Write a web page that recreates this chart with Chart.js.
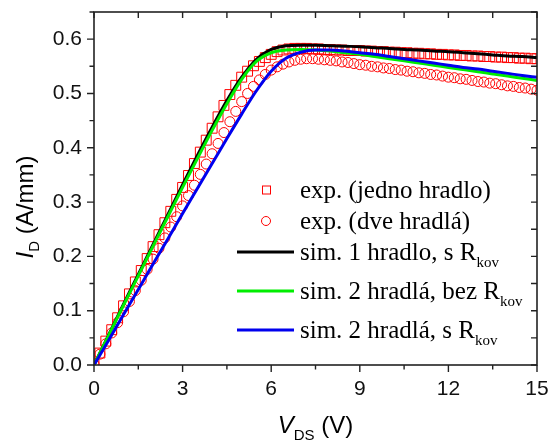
<!DOCTYPE html>
<html>
<head>
<meta charset="utf-8">
<script src="https://cdn.jsdelivr.net/npm/chart.js@4.4.1/dist/chart.umd.min.js"></script>
<style>
  body { margin: 0; background: #fff; }
  canvas { display: block; }
</style>
</head>
<body>
<canvas id="myChart" width="551" height="445"></canvas>
<script>
// measured points, 0.2 V step
var vExp = [0,0.2,0.4,0.6,0.8,1,1.2,1.4,1.6,1.8,2,2.2,2.4,2.6,2.8,3,3.2,3.4,3.6,3.8,
  4,4.2,4.4,4.6,4.8,5,5.2,5.4,5.6,5.8,6,6.2,6.4,6.6,6.8,7,7.2,7.4,7.6,7.8,
  8,8.2,8.4,8.6,8.8,9,9.2,9.4,9.6,9.8,10,10.2,10.4,10.6,10.8,11,11.2,11.4,11.6,11.8,
  12,12.2,12.4,12.6,12.8,13,13.2,13.4,13.6,13.8,14,14.2,14.4,14.6,14.8,15]

// exp. (jedno hradlo) - squares
var iJedno = [0.002,0.022,0.044,0.065,0.087,0.109,0.131,0.153,0.174,0.196,0.218,0.240,0.262,0.283,0.305,0.327,0.349,0.371,0.392,0.414,
  0.436,0.457,0.478,0.498,0.515,0.530,0.541,0.551,0.559,0.566,0.572,0.577,0.580,0.582,0.583,0.583,0.583,0.582,0.582,0.581,
  0.581,0.580,0.580,0.579,0.579,0.579,0.578,0.578,0.577,0.577,0.576,0.576,0.575,0.575,0.574,0.574,0.573,0.573,0.572,0.572,
  0.571,0.571,0.570,0.570,0.569,0.569,0.568,0.568,0.567,0.567,0.566,0.566,0.565,0.565,0.564,0.564]

// exp. (dve hradla) - circles
var iDve = [0.002,0.020,0.039,0.059,0.078,0.098,0.117,0.137,0.156,0.176,0.195,0.215,0.234,0.254,0.273,0.293,0.312,0.331,0.351,0.370,
  0.389,0.408,0.428,0.448,0.467,0.485,0.500,0.513,0.525,0.535,0.543,0.549,0.554,0.558,0.561,0.563,0.564,0.564,0.563,0.562,
  0.561,0.560,0.558,0.557,0.555,0.553,0.552,0.550,0.549,0.547,0.546,0.544,0.543,0.541,0.540,0.538,0.537,0.535,0.534,0.532,
  0.530,0.529,0.527,0.526,0.524,0.522,0.521,0.519,0.518,0.516,0.514,0.513,0.511,0.510,0.508,0.506]

// simulations, 0.5 V step
var vSim = [0,0.5,1,1.5,2,2.5,3,3.5,4,4.5,5,5.5,6,6.5,7,7.5,8,8.5,9,9.5,10,10.5,11,11.5,12,12.5,13,13.5,14,14.5,15]
var iSim1 = [0,0.056,0.112,0.167,0.222,0.277,0.332,0.386,0.438,0.487,0.530,0.563,0.581,0.588,0.589,0.589,0.588,0.587,0.586,0.584,
  0.583,0.581,0.580,0.578,0.577,0.575,0.573,0.571,0.569,0.568,0.566]
var iSim2bez = [0,0.055,0.110,0.164,0.219,0.273,0.327,0.380,0.432,0.481,0.526,0.559,0.575,0.580,0.581,0.580,0.578,0.575,0.572,0.568,
  0.564,0.560,0.556,0.552,0.548,0.544,0.540,0.536,0.532,0.528,0.524]
var iSim2s = [0,0.046,0.093,0.139,0.186,0.232,0.279,0.325,0.371,0.417,0.462,0.505,0.541,0.565,0.576,0.580,0.580,0.578,0.575,0.572,
  0.568,0.564,0.560,0.556,0.552,0.548,0.545,0.541,0.537,0.533,0.530]

var xTicks = [0,3,6,9,12,15]
var yTicks = [0,0.1,0.2,0.3,0.4,0.5,0.6]

function pts(xs, ys) {
  var out = []
  for (var i = 0; i < xs.length; i++) out.push({x: xs[i], y: ys[i]})
  return out
}

var SANS = "'Liberation Sans', Arial, sans-serif"
var SERIF = "'Liberation Serif', 'Times New Roman', serif"
var legendRows = [
  {kind: 'rect', color: '#ff0000', text: 'exp. (jedno hradlo)', sub: '', base: 198},
  {kind: 'circle', color: '#ff0000', text: 'exp. (dve hradlá)', sub: '', base: 229},
  {kind: 'line', color: '#000000', text: 'sim. 1 hradlo, s R', sub: 'kov', base: 260},
  {kind: 'line', color: '#00ee00', text: 'sim. 2 hradlá, bez R', sub: 'kov', base: 299},
  {kind: 'line', color: '#0000ee', text: 'sim. 2 hradlá, s R', sub: 'kov', base: 338}
]

// draws text pieces [text, font, dy]
function drawPieces(ctx, pieces, x, y) {
  var cx = x
  pieces.forEach(function (p) {
    ctx.font = p[1]
    ctx.fillText(p[0], cx, y + p[2])
    cx += ctx.measureText(p[0]).width
  })
}
function piecesWidth(ctx, pieces) {
  var w = 0
  pieces.forEach(function (p) { ctx.font = p[1]; w += ctx.measureText(p[0]).width })
  return w
}

var framePlugin = {
  id: 'frame',
  afterDraw: function (chart) {
    var ctx = chart.ctx
    var a = chart.chartArea
    var xs = chart.scales.x, ys = chart.scales.y
    ctx.save()
    ctx.strokeStyle = '#222'
    ctx.lineWidth = 1.6
    ctx.strokeRect(a.left, a.top, a.right - a.left, a.bottom - a.top)
    ctx.lineWidth = 1.4
    ctx.beginPath()
    for (var v = 0; v <= 15.001; v += 1.5) {
      var px = xs.getPixelForValue(v)
      var major = Math.abs(v / 3 - Math.round(v / 3)) < 0.01
      var len = major ? 7 : 4.5
      ctx.moveTo(px, a.bottom); ctx.lineTo(px, a.bottom + len)
      ctx.moveTo(px, a.top); ctx.lineTo(px, a.top + 6)
    }
    for (var k = 0; k <= 13; k++) {
      var val = k * 0.05
      var py = ys.getPixelForValue(val)
      var len2 = (k % 2 === 0) ? 7 : 4.5
      ctx.moveTo(a.left, py); ctx.lineTo(a.left - len2, py)
      ctx.moveTo(a.right, py); ctx.lineTo(a.right - 6, py)
    }
    ctx.stroke()

    // legend
    ctx.fillStyle = '#000'
    ctx.textBaseline = 'alphabetic'
    legendRows.forEach(function (r) {
      var my = r.base - 8
      ctx.strokeStyle = r.color
      if (r.kind === 'line') {
        ctx.lineWidth = 3
        ctx.beginPath(); ctx.moveTo(237, my); ctx.lineTo(294, my); ctx.stroke()
      } else if (r.kind === 'rect') {
        ctx.lineWidth = 1
        ctx.strokeRect(262.5, my - 4, 8, 8)
      } else {
        ctx.lineWidth = 1
        ctx.beginPath(); ctx.arc(266, my, 4.5, 0, Math.PI * 2); ctx.stroke()
      }
      ctx.fillStyle = '#000'
      drawPieces(ctx, [[r.text, '25px ' + SERIF, 0], [r.sub, '15px ' + SERIF, 7]], 300, r.base)
    })

    // axis titles
    var xt = [['V', 'italic 24px ' + SANS, 0], ['DS', '15px ' + SANS, 7], [' (V)', '24px ' + SANS, 0]]
    var cxm = (a.left + a.right) / 2
    drawPieces(ctx, xt, cxm - piecesWidth(ctx, xt) / 2, 433)
    var yt = [['I', 'italic 24px ' + SANS, 0], ['D', '15px ' + SANS, 6], [' (A/mm)', '24px ' + SANS, 0]]
    ctx.translate(33, 207)
    ctx.rotate(-Math.PI / 2)
    drawPieces(ctx, yt, -piecesWidth(ctx, yt) / 2, 0)
    ctx.restore()
  }
}

function chart() {
  var ctx = document.getElementById('myChart')
  var myChart = new Chart(ctx, {
    type: 'scatter',
    data: {
      datasets: [{
        label: 'sim. 2 hradlá, s Rkov',
        data: pts(vSim, iSim2s),
        showLine: true, borderColor: '#0000ee', borderWidth: 3,
        pointRadius: 0, cubicInterpolationMode: 'monotone'
      }, {
        label: 'sim. 2 hradlá, bez Rkov',
        data: pts(vSim, iSim2bez),
        showLine: true, borderColor: '#00ee00', borderWidth: 3,
        pointRadius: 0, cubicInterpolationMode: 'monotone'
      }, {
        label: 'sim. 1 hradlo, s Rkov',
        data: pts(vSim, iSim1),
        showLine: true, borderColor: '#000000', borderWidth: 3,
        pointRadius: 0, cubicInterpolationMode: 'monotone'
      }, {
        label: 'exp. (dve hradlá)',
        data: pts(vExp, iDve),
        pointStyle: 'circle', pointRadius: 5, borderWidth: 1,
        borderColor: '#ff0000', backgroundColor: 'rgba(0,0,0,0)'
      }, {
        label: 'exp. (jedno hradlo)',
        data: pts(vExp, iJedno),
        pointStyle: 'rect', pointRadius: 7, borderWidth: 1,
        borderColor: '#ff0000', backgroundColor: 'rgba(0,0,0,0)'
      }]
    },
    options: {
      responsive: false,
      animation: false,
      layout: { padding: { top: 12, right: 14, left: 0, bottom: 0 } },
      plugins: { legend: { display: false }, tooltip: { enabled: false } },
      scales: {
        x: {
          type: 'linear', min: 0, max: 15,
          afterBuildTicks: function (s) { s.ticks = xTicks.map(function (v) { return {value: v} }) },
          afterFit: function (s) { s.height = 80; s.paddingLeft = 0; s.paddingRight = 0 },
          ticks: { padding: 12, color: '#111', font: { family: SANS, size: 21 }, maxRotation: 0 },
          grid: { display: false, drawTicks: false },
          border: { display: false }
        },
        y: {
          min: 0, max: 0.65,
          afterBuildTicks: function (s) { s.ticks = yTicks.map(function (v) { return {value: v} }) },
          afterFit: function (s) { s.width = 94; s.paddingTop = 0; s.paddingBottom = 0 },
          ticks: {
            padding: 12, color: '#111', font: { family: SANS, size: 21 },
            callback: function (v) { return v.toFixed(1) }
          },
          grid: { display: false, drawTicks: false },
          border: { display: false }
        }
      }
    },
    plugins: [framePlugin]
  })
}
chart()
</script>
</body>
</html>
